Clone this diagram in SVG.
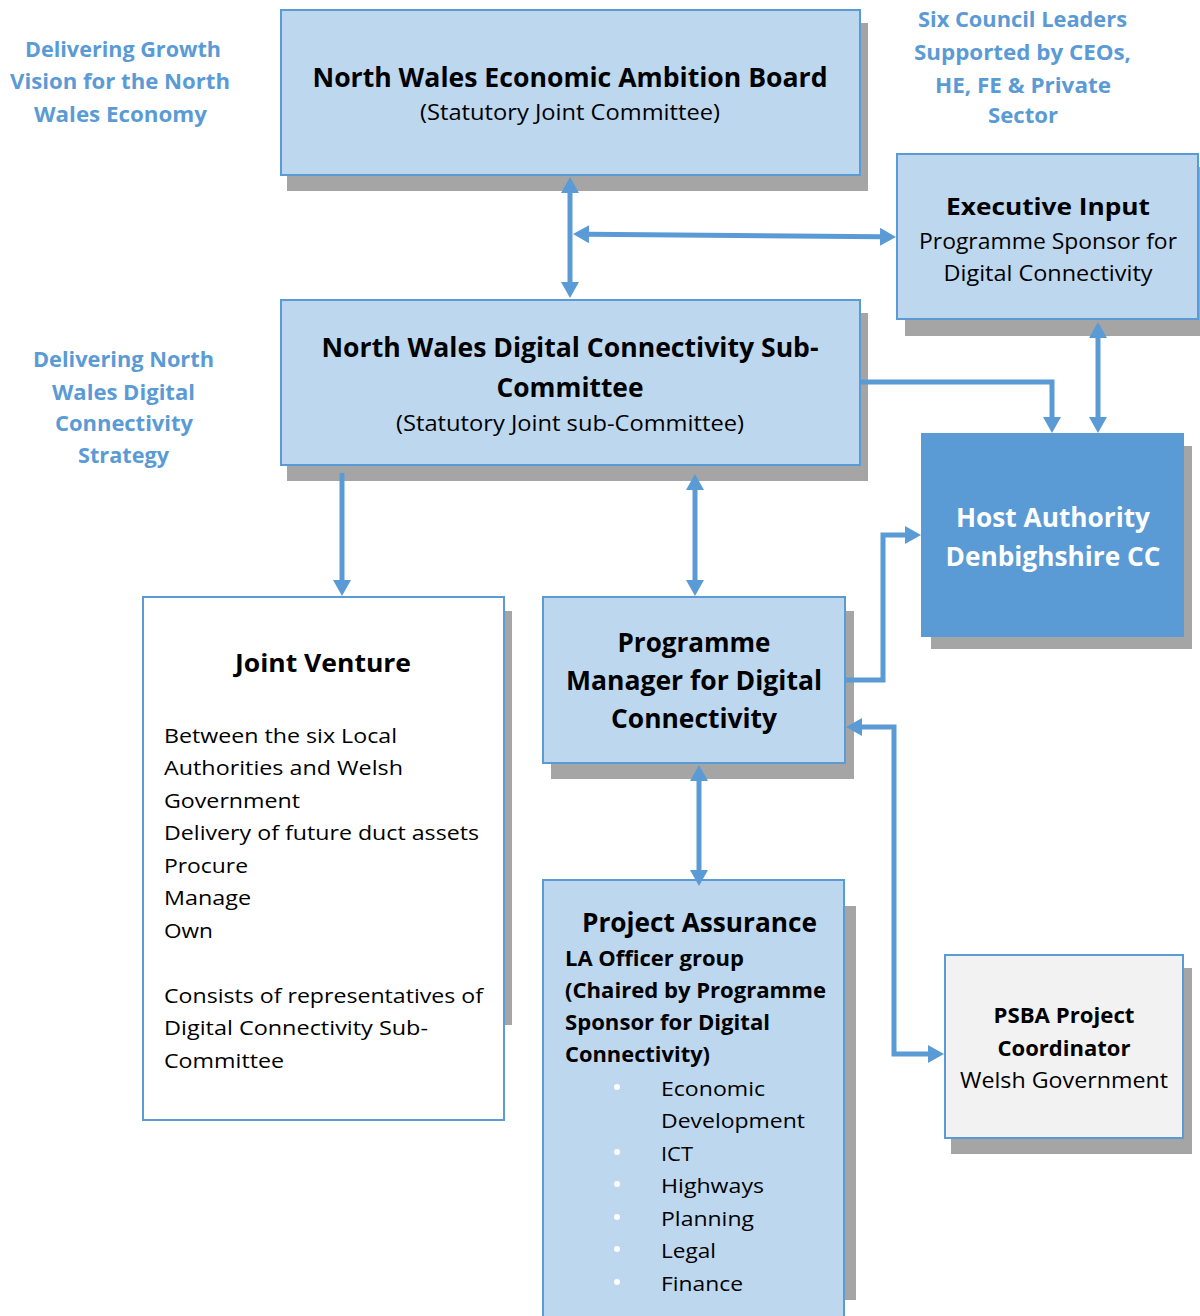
<svg xmlns="http://www.w3.org/2000/svg" width="1200" height="1316" viewBox="0 0 1200 1316">
<defs>
<style>
.shadow{fill:#A5A5A5}
.box{fill:#BDD7EE;stroke:#5B9BD5;stroke-width:2}
.white{fill:#FFFFFF;stroke:#5B9BD5;stroke-width:2}
.grey{fill:#F2F2F2;stroke:#5B9BD5;stroke-width:2}
.host{fill:#5B9BD5;stroke:#5B9BD5;stroke-width:2}
text{font-family:"Open Sans","Liberation Sans",sans-serif;fill:#000000}
.b{font-weight:700}
.c{text-anchor:middle}
.t25{font-size:26px}
.t23{font-size:24px}
.t21{font-size:21.5px}
.t20{font-size:21px}
.t19{font-size:20.5px}
.wt{fill:#FFFFFF}
.lbl{fill:#5B9BD5;font-weight:700;text-anchor:middle;font-size:21.5px}
.conn{fill:none;stroke:#5B9BD5;stroke-width:5}
.bul{fill:#FFFFFF}
</style>
<marker id="ah" viewBox="0 0 16 18" refX="1" refY="9" markerWidth="16" markerHeight="18" markerUnits="userSpaceOnUse" orient="auto-start-reverse">
<path d="M0,0 L16,9 L0,18 Z" fill="#5B9BD5"/>
</marker>
</defs>
<rect width="1200" height="1316" fill="#FFFFFF"/>

<g id="labels">
<text class="lbl" x="123" y="57" textLength="196" lengthAdjust="spacingAndGlyphs">Delivering Growth</text>
<text class="lbl" x="120" y="89" textLength="220" lengthAdjust="spacingAndGlyphs">Vision for the North</text>
<text class="lbl" x="120.5" y="122" textLength="173" lengthAdjust="spacingAndGlyphs">Wales Economy</text>
<text class="lbl" x="1022.5" y="27" textLength="209" lengthAdjust="spacingAndGlyphs">Six Council Leaders</text>
<text class="lbl" x="1022.5" y="60" textLength="217" lengthAdjust="spacingAndGlyphs">Supported by CEOs,</text>
<text class="lbl" x="1023" y="93" textLength="176" lengthAdjust="spacingAndGlyphs">HE, FE &amp; Private</text>
<text class="lbl" x="1023" y="123" textLength="70" lengthAdjust="spacingAndGlyphs">Sector</text>
<text class="lbl" x="123.5" y="367" textLength="181" lengthAdjust="spacingAndGlyphs">Delivering North</text>
<text class="lbl" x="123.5" y="400" textLength="143" lengthAdjust="spacingAndGlyphs">Wales Digital</text>
<text class="lbl" x="124" y="431" textLength="138" lengthAdjust="spacingAndGlyphs">Connectivity</text>
<text class="lbl" x="123.5" y="463" textLength="91" lengthAdjust="spacingAndGlyphs">Strategy</text>
</g>

<g id="nweab">
<rect class="shadow" x="287" y="23" width="581" height="168"/>
<rect class="box" x="281" y="10" width="579" height="165"/>
<text class="b c t25" x="570" y="87" textLength="515" lengthAdjust="spacingAndGlyphs">North Wales Economic Ambition Board</text>
<text class="c t20" x="570" y="120" textLength="300" lengthAdjust="spacingAndGlyphs">(Statutory Joint Committee)</text>
</g>

<g id="executive">
<rect class="shadow" x="905" y="167" width="300" height="169"/>
<rect class="box" x="897" y="154" width="301" height="165"/>
<text class="b c t23" x="1048" y="215" textLength="204" lengthAdjust="spacingAndGlyphs">Executive Input</text>
<text class="c t20" x="1048" y="249" textLength="258" lengthAdjust="spacingAndGlyphs">Programme Sponsor for</text>
<text class="c t20" x="1048" y="281" textLength="209" lengthAdjust="spacingAndGlyphs">Digital Connectivity</text>
</g>

<g id="subcommittee">
<rect class="shadow" x="287" y="313" width="581" height="168"/>
<rect class="box" x="281" y="300" width="579" height="165"/>
<text class="b c t25" x="570" y="357" textLength="497" lengthAdjust="spacingAndGlyphs">North Wales Digital Connectivity Sub-</text>
<text class="b c t25" x="570" y="397" textLength="147" lengthAdjust="spacingAndGlyphs">Committee</text>
<text class="c t20" x="570" y="431" textLength="348" lengthAdjust="spacingAndGlyphs">(Statutory Joint sub-Committee)</text>
</g>

<g id="host">
<rect class="shadow" x="931" y="446" width="261" height="203"/>
<rect class="host" x="922" y="434" width="261" height="202"/>
<text class="b c t25 wt" x="1053" y="527" textLength="194" lengthAdjust="spacingAndGlyphs">Host Authority</text>
<text class="b c t25 wt" x="1053" y="566" textLength="215" lengthAdjust="spacingAndGlyphs">Denbighshire CC</text>
</g>

<g id="programme-manager">
<rect class="shadow" x="551" y="611" width="303" height="168"/>
<rect class="box" x="543" y="597" width="302" height="166"/>
<text class="b c t25" x="694" y="652" textLength="153" lengthAdjust="spacingAndGlyphs">Programme</text>
<text class="b c t25" x="694" y="690" textLength="256" lengthAdjust="spacingAndGlyphs">Manager for Digital</text>
<text class="b c t25" x="694" y="728" textLength="166" lengthAdjust="spacingAndGlyphs">Connectivity</text>
</g>

<g id="joint-venture">
<rect class="shadow" x="151" y="611" width="361" height="414"/>
<rect class="white" x="143" y="597" width="361" height="523"/>
<text class="b c" style="font-size:25px" x="323" y="672" textLength="176" lengthAdjust="spacingAndGlyphs">Joint Venture</text>
<text class="t19" x="164" y="742.5" textLength="233" lengthAdjust="spacingAndGlyphs">Between the six Local</text>
<text class="t19" x="164" y="775" textLength="239" lengthAdjust="spacingAndGlyphs">Authorities and Welsh</text>
<text class="t19" x="164" y="807.5" textLength="136" lengthAdjust="spacingAndGlyphs">Government</text>
<text class="t19" x="164" y="840" textLength="315" lengthAdjust="spacingAndGlyphs">Delivery of future duct assets</text>
<text class="t19" x="164" y="872.5" textLength="84" lengthAdjust="spacingAndGlyphs">Procure</text>
<text class="t19" x="164" y="905" textLength="87" lengthAdjust="spacingAndGlyphs">Manage</text>
<text class="t19" x="164" y="937.5" textLength="49" lengthAdjust="spacingAndGlyphs">Own</text>
<text class="t19" x="164" y="1003" textLength="319" lengthAdjust="spacingAndGlyphs">Consists of representatives of</text>
<text class="t19" x="164" y="1035" textLength="264" lengthAdjust="spacingAndGlyphs">Digital Connectivity Sub-</text>
<text class="t19" x="164" y="1067.5" textLength="120" lengthAdjust="spacingAndGlyphs">Committee</text>
</g>

<g id="project-assurance">
<rect class="shadow" x="551" y="906" width="305" height="394"/>
<rect class="box" x="543" y="880" width="301" height="450"/>
<text class="b c t25" x="699.5" y="932" textLength="235" lengthAdjust="spacingAndGlyphs">Project Assurance</text>
<text class="b t21" x="565" y="966" textLength="179" lengthAdjust="spacingAndGlyphs">LA Officer group</text>
<text class="b t21" x="565" y="998" textLength="261" lengthAdjust="spacingAndGlyphs">(Chaired by Programme</text>
<text class="b t21" x="565" y="1030" textLength="205" lengthAdjust="spacingAndGlyphs">Sponsor for Digital</text>
<text class="b t21" x="565" y="1062" textLength="145" lengthAdjust="spacingAndGlyphs">Connectivity)</text>
<circle class="bul" cx="617" cy="1087" r="3"/>
<circle class="bul" cx="617" cy="1152" r="3"/>
<circle class="bul" cx="617" cy="1184" r="3"/>
<circle class="bul" cx="617" cy="1217" r="3"/>
<circle class="bul" cx="617" cy="1249" r="3"/>
<circle class="bul" cx="617" cy="1282" r="3"/>
<text class="t19" x="661" y="1096" textLength="104" lengthAdjust="spacingAndGlyphs">Economic</text>
<text class="t19" x="661" y="1128" textLength="144" lengthAdjust="spacingAndGlyphs">Development</text>
<text class="t19" x="661" y="1161" textLength="32" lengthAdjust="spacingAndGlyphs">ICT</text>
<text class="t19" x="661" y="1193" textLength="103" lengthAdjust="spacingAndGlyphs">Highways</text>
<text class="t19" x="661" y="1226" textLength="93" lengthAdjust="spacingAndGlyphs">Planning</text>
<text class="t19" x="661" y="1258" textLength="55" lengthAdjust="spacingAndGlyphs">Legal</text>
<text class="t19" x="661" y="1291" textLength="82" lengthAdjust="spacingAndGlyphs">Finance</text>
</g>

<g id="psba">
<rect class="shadow" x="951" y="968" width="241" height="186"/>
<rect class="grey" x="945" y="955" width="238" height="183"/>
<text class="b c" style="font-size:21.5px" x="1064" y="1023" textLength="141" lengthAdjust="spacingAndGlyphs">PSBA Project</text>
<text class="b c" style="font-size:21.5px" x="1064" y="1056" textLength="133" lengthAdjust="spacingAndGlyphs">Coordinator</text>
<text class="c" style="font-size:21.5px" x="1064" y="1088" textLength="208" lengthAdjust="spacingAndGlyphs">Welsh Government</text>
</g>

<g id="connectors">
<path class="conn" d="M570,192 V283" marker-start="url(#ah)" marker-end="url(#ah)"/>
<path class="conn" d="M588,234.2 L881,236.8" marker-start="url(#ah)" marker-end="url(#ah)"/>
<path class="conn" d="M860,382 H1052 V418" marker-end="url(#ah)"/>
<path class="conn" d="M1098,337 V418" marker-start="url(#ah)" marker-end="url(#ah)"/>
<path class="conn" d="M342,473 V581" marker-end="url(#ah)"/>
<path class="conn" d="M695,489 V581" marker-start="url(#ah)" marker-end="url(#ah)"/>
<path class="conn" d="M845,680 H883 V535 H906" marker-end="url(#ah)"/>
<path class="conn" d="M861,727 H894 V1054 H929" marker-start="url(#ah)" marker-end="url(#ah)"/>
<path class="conn" d="M699,780 V871" marker-start="url(#ah)" marker-end="url(#ah)"/>
</g>
</svg>
